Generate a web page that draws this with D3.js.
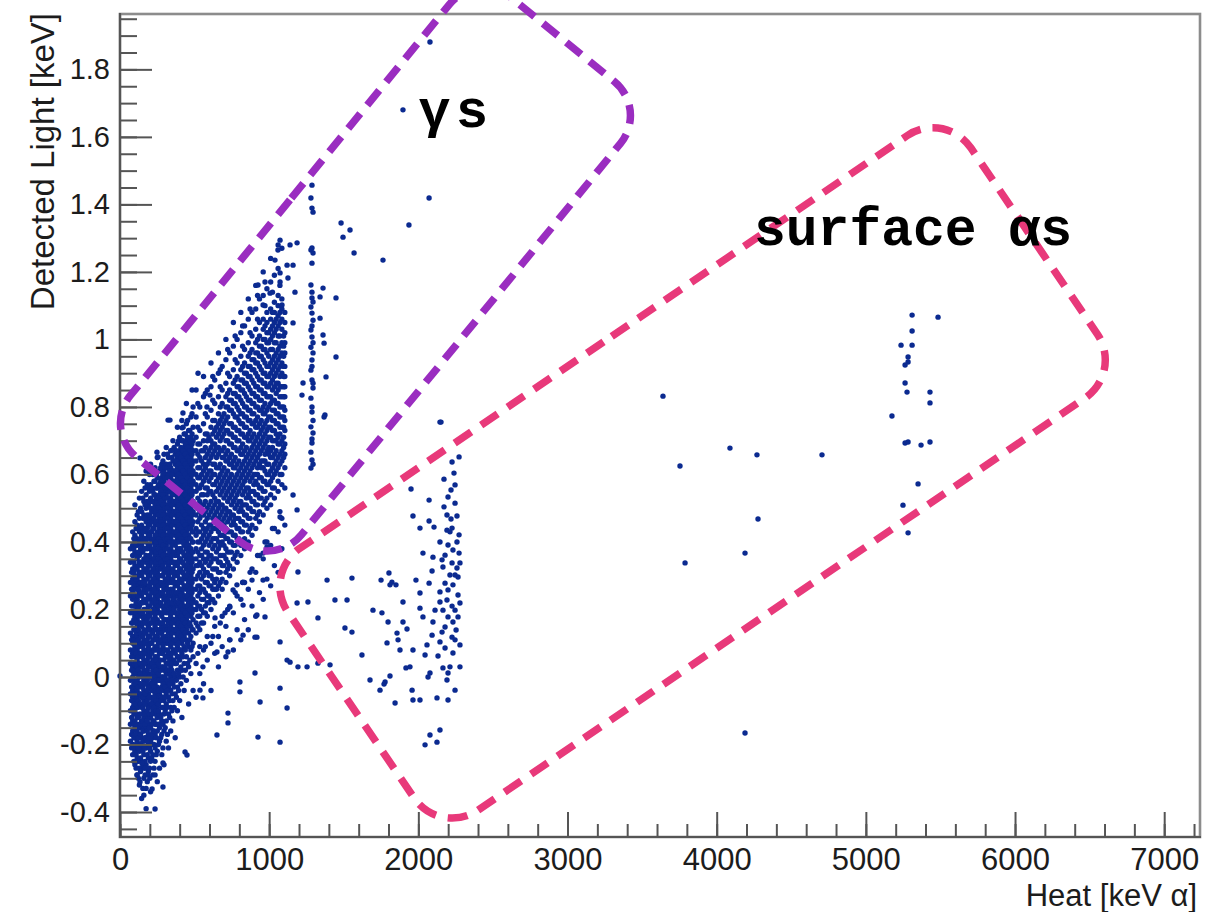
<!DOCTYPE html>
<html><head><meta charset="utf-8">
<script src="https://cdn.jsdelivr.net/npm/d3@7"></script>
<style>body{margin:0;background:#fff;}svg{display:block;}</style>
</head><body>
<svg id="chart" width="1220" height="912"></svg>
<script>
// ---------------- DATA ----------------
const xTickValues = [0,1000,2000,3000,4000,5000,6000,7000];
const yTickValues = [-0.4,-0.2,0,0.2,0.4,0.6,0.8,1,1.2,1.4,1.6,1.8];
const xTitle = "Heat [keV \u03b1]";
const yTitle = "Detected Light [keV]";

// dense low-energy core: [heat keV, light values in 0.01 keV]
const coreColumns = [
 [70,[-19,-14,-10,-5,-1,4,8,13,19,24,28,34,38]],
 [85,[-23,-20,-16,-13,-9,-6,-4,0,3,7,10,12,16,19,23,25,29,32,36,39,43]],
 [100,[-26,-22,-18,-15,-13,-10,-7,-3,-1,2,6,9,11,14,18,21,24,28,30,33,37,40,42,46,51]],
 [115,[-29,-24,-21,-19,-16,-12,-9,-6,-4,-1,3,5,8,12,15,17,20,23,27,29,32,35,39,41,45,48]],
 [130,[-32,-27,-22,-20,-17,-14,-11,-8,-5,-2,0,4,7,9,13,16,19,21,25,28,31,34,36,40,43,47,53]],
 [145,[-36,-25,-21,-18,-15,-13,-9,-6,-3,1,3,6,10,12,15,18,22,24,27,30,33,37,39,42,45,49,55]],
 [160,[-30,-27,-23,-19,-16,-12,-10,-7,-4,-1,2,5,8,11,14,17,20,23,26,29,32,35,38,41,44,48,52,58]],
 [175,[-39,-33,-26,-21,-18,-15,-11,-8,-6,-2,0,4,7,10,13,16,18,22,25,27,31,34,36,40,43,46,50,54,61]],
 [190,[-28,-24,-20,-17,-14,-12,-9,-5,-3,1,3,6,9,12,15,19,21,24,27,30,33,35,39,42,45,47,51,56]],
 [205,[-34,-25,-22,-19,-15,-12,-8,-6,-2,0,4,7,10,14,16,19,23,26,28,31,34,38,41,43,46,50,53,57,63]],
 [220,[-29,-23,-18,-16,-13,-10,-7,-4,-1,2,5,8,11,13,17,20,22,25,29,32,35,37,40,44,47,49,52,55,60]],
 [235,[-25,-21,-17,-14,-11,-8,-5,-2,1,4,6,9,12,15,18,21,24,27,30,33,36,39,42,45,48,51,54,58,62]],
 [250,[-31,-22,-16,-12,-9,-6,-3,0,3,6,9,12,14,17,20,23,26,29,31,34,37,40,43,46,49,52,56,59,65]],
 [265,[-27,-19,-15,-11,-7,-5,-1,2,5,7,11,14,16,19,22,25,28,30,33,36,39,42,44,47,51,54,57,61]],
 [280,[-23,-17,-13,-9,-6,-3,0,3,7,10,13,15,18,21,24,27,30,33,35,38,41,44,47,50,53,56,59,63]],
 [295,[-26,-16,-11,-7,-4,-1,2,5,8,11,14,17,20,23,26,28,31,34,37,40,43,46,49,52,55,58,61,66]],
 [310,[-19,-13,-8,-5,-2,1,4,6,10,12,15,19,22,24,27,31,34,36,39,42,45,48,51,54,57,60,63,68]],
 [325,[-21,-11,-6,-3,1,4,7,10,13,16,19,22,25,28,30,33,36,40,42,45,48,51,55,57,60,65]],
 [340,[-16,-9,-4,0,3,6,9,12,15,18,21,24,26,29,32,35,38,41,44,47,50,53,56,59,62,67]],
 [355,[-13,-7,-2,1,5,8,11,14,17,20,23,26,29,32,34,37,40,43,46,49,52,55,58,61,64,70]],
 [370,[-18,-5,0,4,7,10,13,16,19,21,24,27,31,33,36,39,42,45,48,51,54,57,60,63,66]],
 [385,[-10,-3,2,6,9,12,15,18,21,24,27,30,33,36,38,41,44,47,50,53,56,59,62,65,69,74]],
 [400,[-7,0,5,8,11,14,17,20,23,26,29,32,35,38,41,43,46,49,52,55,58,61,64,67,71]],
 [415,[-12,2,7,10,13,16,19,22,25,28,31,34,37,40,42,45,48,51,54,57,60,63,66,70,76]],
 [430,[-4,4,9,12,15,18,21,24,27,30,33,36,39,41,44,47,50,53,56,59,62,65,68,72]],
 [445,[-1,6,11,14,17,20,23,26,29,32,35,38,40,43,46,49,52,55,58,61,64,67,70,75,81]],
 [460,[-8,3,9,13,16,19,22,25,28,31,34,37,39,42,45,48,51,54,57,60,63,66,69,73]],
 [475,[1,8,12,15,18,21,24,27,30,33,36,38,41,44,47,50,53,56,59,62,65,68,71,77]],
 [490,[-4,6,10,14,17,20,23,26,29,32,35,37,40,43,46,49,52,55,58,61,64,67,70,74,80]]
];
const coreColumnsB = [
 [78,[-21,-17,-12,-7,-3,2,6,11,16,21,26,31]],
 [93,[-25,-21,-18,-14,-11,-8,-5,-2,1,4,8,11,14,17,21,24,27,31,34,38,41]],
 [108,[-27,-23,-20,-17,-14,-11,-8,-5,-2,1,4,7,10,13,16,19,22,26,29,32,36,39,44]],
 [123,[-30,-25,-21,-18,-15,-12,-9,-7,-3,0,2,6,9,11,14,18,20,24,26,30,33,37,40,44,49]],
 [138,[-28,-24,-20,-17,-14,-11,-8,-5,-2,1,4,7,10,13,16,19,22,25,28,31,34,38,41,44,50]],
 [153,[-33,-26,-22,-19,-16,-13,-9,-6,-3,0,3,6,9,12,16,19,22,25,28,31,34,37,40,43,47,53]],
 [168,[-29,-25,-21,-18,-14,-11,-8,-5,-2,1,4,7,10,13,16,20,23,26,28,32,35,38,41,44,47,51,56]],
 [183,[-31,-23,-19,-16,-13,-10,-7,-4,-1,2,5,8,11,14,17,20,23,26,29,32,35,38,41,44,48,52,57]],
 [198,[-27,-21,-18,-15,-11,-9,-6,-3,0,3,6,8,12,14,18,21,24,27,30,33,36,39,42,45,48,52,55,60]],
 [213,[-24,-20,-17,-14,-11,-8,-4,-2,1,4,7,10,13,16,19,22,25,28,31,34,37,40,43,46,49,52,56]],
 [228,[-27,-20,-16,-13,-9,-6,-3,0,3,5,8,11,14,17,20,23,26,29,32,35,38,41,44,47,50,54,58]],
 [243,[-23,-18,-14,-10,-7,-4,-1,2,5,8,11,14,16,19,22,25,28,31,34,37,40,42,46,49,53,56,60]],
 [258,[-20,-14,-10,-8,-4,-1,1,4,8,10,13,16,19,21,24,27,30,32,35,38,41,45,48,50,53,57]],
 [273,[-18,-12,-7,-4,-1,2,5,8,11,13,16,19,22,25,28,32,34,37,40,43,46,49,52,55,58,62]],
 [288,[-21,-14,-9,-6,-2,0,3,7,9,12,16,19,21,25,27,30,33,36,39,42,45,48,51,54,57,60,64]],
 [303,[-15,-10,-6,-3,0,3,6,8,11,14,17,20,23,26,29,32,35,38,41,44,47,50,53,56,59,62]],
 [318,[-17,-9,-4,-1,2,6,8,11,14,17,21,23,26,29,32,35,38,41,44,47,50,53,56,59,62,66]],
 [333,[-12,-7,-2,2,5,7,11,14,17,20,22,25,28,31,34,37,40,43,46,49,52,55,58,61,63]],
 [348,[-10,-5,-1,2,4,7,10,13,16,19,22,25,28,31,34,36,39,42,45,48,51,54,57,60,65]],
 [363,[-9,-3,1,5,8,11,14,17,20,23,25,28,30,34,37,40,43,46,49,52,55,58,61,64,68]],
 [378,[-6,-1,4,8,11,14,17,19,22,25,28,31,34,37,40,43,46,49,52,55,58,61,64,67]],
 [393,[-4,1,6,10,13,16,19,22,25,28,31,34,37,40,42,45,48,51,54,57,60,63,66,70]],
 [408,[-2,3,8,12,15,18,21,24,26,29,32,35,38,41,44,47,50,53,56,59,62,65,68]],
 [423,[0,6,11,14,17,20,23,26,29,31,34,37,40,43,46,49,52,55,58,61,64,67,70,74]],
 [438,[2,8,13,16,19,21,24,27,30,33,36,39,42,45,48,51,54,57,60,63,66,69,72]],
 [453,[4,10,15,18,21,24,27,30,33,36,39,41,44,47,50,53,56,59,62,65,68,71,76]],
 [468,[5,11,16,20,23,26,29,32,35,38,41,44,46,49,52,55,58,61,64,67,70,73]],
 [483,[9,14,19,22,25,28,31,34,37,40,43,45,48,51,54,57,60,63,66,69,72,78]]
];

// gamma band rising with heat: [heat keV, light values in 0.01 keV]
const bandColumns = [
 [510,[-6,4,13,16,20,22,26,29,33,35,38,42,44,48,51,55,57,60,64,67,71,77,85]],
 [535,[1,9,14,18,21,25,27,31,34,36,40,43,47,49,52,56,59,62,65,69,73,80]],
 [560,[-2,8,16,19,23,26,30,32,35,39,42,44,48,51,54,58,61,63,67,70,75,83,89]],
 [585,[5,12,18,22,24,28,31,35,37,41,44,47,50,54,56,60,63,66,70,72,77,85]],
 [610,[-4,10,20,23,27,30,34,36,40,43,45,49,52,55,59,61,65,68,70,74,79,86,93]],
 [635,[7,15,22,26,28,32,35,39,41,44,48,51,53,57,60,63,67,69,73,76,81,88]],
 [660,[3,12,24,27,31,34,38,40,43,47,50,52,56,59,62,66,68,72,75,78,83,90,96]],
 [685,[9,18,26,29,33,36,40,42,46,49,51,55,58,61,65,67,71,74,77,81,85,92]],
 [710,[6,15,28,31,35,38,41,44,48,50,54,57,60,64,66,70,73,76,80,83,87,94,100]],
 [735,[11,21,30,33,37,40,43,47,49,53,56,59,63,65,69,72,75,79,82,85,89,96]],
 [760,[8,19,32,35,39,42,46,48,52,55,58,62,64,68,71,74,78,81,84,87,91,98,105]],
 [785,[14,24,34,37,41,44,47,51,54,57,60,63,67,70,73,77,80,83,86,89,93,100]],
 [810,[11,23,36,39,43,46,50,52,56,59,62,66,68,72,75,78,82,85,88,91,95,102,108]],
 [835,[17,28,38,41,45,48,51,55,58,61,64,67,71,74,77,80,84,87,90,93,97,104]],
 [860,[14,26,40,43,47,50,54,56,60,63,66,70,72,76,79,82,86,89,92,95,99,106,112]],
 [885,[21,32,42,45,49,52,55,59,62,65,68,71,75,78,81,84,88,91,94,97,101,108]],
 [910,[18,31,44,47,51,54,58,60,64,67,70,74,76,80,83,86,90,93,96,99,103,109,116]],
 [935,[25,36,46,49,53,56,59,63,66,69,72,75,79,82,85,88,92,95,98,101,105,112]],
 [960,[23,35,48,51,55,58,62,64,68,71,74,78,80,84,87,90,94,97,100,103,106,113,120]],
 [985,[29,40,50,53,57,60,63,67,70,73,76,79,83,86,89,92,96,99,102,105,108,115]],
 [1010,[27,39,51,54,58,61,65,67,71,74,77,81,83,87,90,93,97,100,103,106,109,117,124]],
 [1035,[33,44,53,56,60,63,66,70,73,76,79,82,86,89,92,95,99,102,105,108,111,119]],
 [1060,[31,43,55,58,62,65,69,71,75,78,81,85,87,91,94,97,101,104,107,110,113,121,128]],
 [1085,[38,47,57,60,64,67,70,74,77,80,83,86,90,93,96,99,103,106,109,112,127]],
 [1105,[45,56,62,66,69,73,76,79,83,86,89,92,96,99,102,105,108]]
];
const bandColumnsB = [
 [522,[7,15,18,21,24,27,30,33,37,40,43,46,50,53,56,59,62,66,69,74,81]],
 [547,[16,20,23,26,29,33,36,38,41,45,48,51,54,57,60,64,67]],
 [572,[9,19,21,25,28,31,34,37,40,43,46,49,52,56,59,62,65,68,72,78,84]],
 [597,[22,24,27,30,33,36,39,42,45,48,51,55,58,61,64,67,71]],
 [622,[12,23,26,29,32,35,38,41,44,47,50,54,57,60,63,66,69,72,76,82,89]],
 [647,[26,29,32,35,37,41,44,46,49,52,55,58,62,65,68,71,74]],
 [672,[16,28,31,34,36,39,42,45,48,51,54,57,60,63,67,70,73,76,80,86,91]],
 [697,[33,36,39,42,45,47,50,53,56,59,62,65,68,72,75,78]],
 [722,[20,32,34,37,41,43,46,49,52,55,58,61,64,67,70,73,77,80,84,90,97]],
 [747,[37,40,43,45,48,51,54,57,60,63,66,69,72,75,79,82]],
 [772,[25,36,39,42,45,47,50,53,56,59,62,65,68,71,74,77,81,84,88,94,101]],
 [797,[41,44,47,49,52,55,58,61,64,67,70,73,76,79,83,86]],
 [822,[28,40,43,46,49,51,54,57,60,63,66,69,72,75,78,81,85,88,92,98,104]],
 [847,[45,48,51,53,56,59,62,65,68,71,74,77,80,83,87,90]],
 [872,[31,44,47,50,53,55,58,61,64,67,70,73,76,79,82,85,89,92,96,102,109]],
 [897,[49,52,55,57,60,63,66,69,72,75,78,81,84,87,91,94]],
 [922,[36,48,51,54,57,60,62,65,68,71,74,77,80,83,86,89,93,96,100,106,113]],
 [947,[53,56,59,62,64,67,70,73,76,79,82,85,88,91,95,98]],
 [972,[40,52,55,58,61,64,66,69,72,75,78,81,84,87,90,93,97,100,104,110,117]],
 [997,[57,60,63,66,68,71,74,77,80,83,86,89,92,95,99,102]],
 [1022,[44,56,59,62,65,68,70,73,76,79,82,85,88,91,94,97,101,104,108,114]],
 [1047,[61,64,67,70,72,75,78,81,84,87,90,93,96,99,103,106]],
 [1072,[49,60,63,66,69,72,74,77,80,83,86,89,92,95,98,101,105,108,116]],
 [1097,[65,68,71,74,77,80,83,86,89,92,95,98,101]]
];

// individual events [heat keV, light keV]
const coreTail = [[0,0.003],[436,-0.222],[449,-0.231],[288,-0.255],[235,-0.290],[188,-0.290],[288,-0.326],[215,-0.332],[235,-0.391],[134,-0.311],[114,-0.290],[147,-0.255],[170,-0.27],[160,-0.35],[200,-0.30],[120,-0.25]];

const line1280 = [[1287,1.457],[1280,1.419],[1287,1.389],[1294,1.377],[1287,1.271],[1280,1.265],[1294,1.256],[1287,1.226],[1280,1.161],[1287,1.140],[1287,1.123],[1294,1.111],[1280,1.096],[1287,1.078],[1294,1.057],[1287,1.040],[1280,1.028],[1287,1.007],[1294,0.990],[1280,0.977],[1294,0.960],[1287,0.939],[1287,0.920],[1280,0.909],[1287,0.880],[1294,0.870],[1294,0.856],[1280,0.826],[1287,0.800],[1287,0.785],[1294,0.760],[1280,0.741],[1294,0.723],[1287,0.705],[1287,0.693],[1280,0.666],[1287,0.643],[1294,0.630],[1280,0.619]];

const gammaOutliers = [[1073,1.294],[1059,1.265],[1140,1.280],[1187,1.286],[1039,1.235],[1120,1.220],[1160,1.220],[1073,1.197],[1126,1.182],[1073,1.170],[925,1.161],[1173,1.140],[1361,1.152],[1341,1.126],[1448,1.123],[1006,1.137],[959,1.102],[1086,1.102],[1341,1.063],[1160,1.049],[1361,1.013],[1448,0.948],[1368,0.989],[1381,0.889],[1227,0.871],[1368,0.770],[1220,0.835],[523,0.900],[483,0.850],[422,0.782],[335,0.761],[416,0.738],[248,0.666],[134,0.649],[322,0.761],[583,0.800],[603,0.835],[255,0.652],[349,0.672],[1374,0.776]];

const highOutliers = [[2078,1.881],[1897,1.680],[1937,1.339],[2072,1.419],[1763,1.235],[1569,1.256],[1495,1.303],[1542,1.324],[1482,1.345],[2145,0.755]];

const midScatter = [[985,0.385],[959,0.367],[1193,0.311],[1388,0.287],[885,0.287],[959,0.287],[825,0.281],[784,0.273],[758,0.258],[1187,0.219],[1260,0.222],[918,0.184],[972,0.178],[1327,0.175],[1522,0.228],[704,0.190],[637,0.175],[825,0.124],[918,0.118],[737,0.110],[1073,0.104],[1508,0.145],[1120,0.050],[1193,0.030],[1254,0.030],[1327,0.041],[1408,0.036],[905,0.012],[724,0.074],[556,0.030],[737,0.207],[825,0.213],[1140,0.044],[905,0.118],[650,0.074],[536,-0.039],[556,-0.062],[804,-0.015],[804,-0.044],[939,-0.074],[1073,-0.033],[1120,-0.092],[724,-0.107],[724,-0.136],[650,-0.172],[925,-0.178],[1073,-0.193],[1555,0.293],[1750,0.287],[1823,0.281],[1864,0.110],[1696,0.198],[1777,-0.015],[1622,0.065],[1441,0.228],[1958,-0.039],[1964,-0.068],[1555,0.133],[1160,0.539],[1187,0.495],[1073,0.474]];

const cluster2200 = [[2152,0.755],[2273,0.652],[2226,0.637],[2239,0.604],[2172,0.586],[1951,0.557],[2072,0.524],[2199,0.533],[2246,0.515],[2172,0.504],[2259,0.477],[2219,0.468],[1964,0.477],[2072,0.462],[2105,0.444],[2011,0.441],[2192,0.435],[2212,0.430],[2145,0.400],[2259,0.400],[2199,0.391],[2031,0.367],[2232,0.376],[2273,0.367],[2098,0.355],[2159,0.347],[2279,0.338],[2226,0.338],[2165,0.326],[2259,0.323],[2092,0.314],[1803,0.308],[2212,0.302],[2266,0.296],[2179,0.278],[1984,0.287],[2072,0.278],[1810,0.273],[1850,0.273],[2232,0.273],[2145,0.252],[2011,0.249],[2266,0.243],[1897,0.222],[2192,0.228],[2145,0.222],[2279,0.219],[2226,0.210],[2165,0.198],[2011,0.204],[2246,0.198],[2031,0.178],[1756,0.190],[2199,0.178],[2098,0.163],[2232,0.163],[1797,0.163],[1897,0.163],[2179,0.148],[1924,0.142],[1857,0.130],[2253,0.139],[2092,0.124],[2226,0.118],[2145,0.104],[2246,0.110],[1790,0.101],[1877,0.080],[1964,0.080],[2058,0.095],[2179,0.086],[2045,0.065],[2132,0.062],[2232,0.071],[1944,0.030],[1917,0.027],[2165,0.027],[2212,0.030],[2279,0.030],[1810,0.003],[2078,0.012],[2199,0.012],[2192,-0.009],[1770,-0.021],[2065,0.000],[2125,-0.062],[2011,-0.068],[2078,-0.172],[2125,-0.193],[2045,-0.201],[2145,-0.157],[2246,-0.039],[2199,-0.068],[1743,-0.039],[1676,-0.009],[1844,-0.077],[2192,0.480],[2226,0.441],[2273,0.421],[2179,0.361],[2246,0.302],[2199,0.258],[2266,0.178],[2159,0.133],[2279,0.095],[2112,0.198],[2219,0.554],[2246,0.569]];

const alphaScatter = [[3640,0.832],[3754,0.625],[4089,0.678],[4270,0.658],[4706,0.658],[3788,0.338],[4190,0.367],[4277,0.468],[4190,-0.166]];

const alpha5300 = [[5310,1.072],[5484,1.066],[5310,1.025],[5236,0.983],[5310,0.983],[5283,0.948],[5283,0.933],[5263,0.924],[5263,0.871],[5276,0.844],[5430,0.844],[5430,0.812],[5175,0.773],[5263,0.693],[5283,0.696],[5370,0.687],[5430,0.696],[5350,0.572],[5249,0.509],[5283,0.427]];

// annotation boxes (corners in heat / light units)
const gammaBox = [[-117,0.733],[1029,0.320],[3542,1.682],[2396,2.094]];
const alphaBox = [[952,0.305],[2145,-0.471],[6725,0.903],[5531,1.680]];
const gammaLabel = {heat:2000, light:1.63, text:"\u03b3s"};
const alphaLabel = {heat:4250, light:1.28, text:"surface \u03b1s"};

// ---------------- CHART ----------------
const svg = d3.select("#chart");
const x = d3.scaleLinear().domain([0, 7240]).range([120, 1200]);
const y = d3.scaleLinear().domain([-0.474, 1.964]).range([837, 14]);

const points = [];
[coreColumns, coreColumnsB, bandColumns, bandColumnsB].forEach(cols =>
  cols.forEach(([h, vals]) => vals.forEach(v => points.push([h, v/100]))));
[coreTail, line1280, gammaOutliers, highOutliers, midScatter, cluster2200, alphaScatter, alpha5300]
  .forEach(arr => arr.forEach(p => points.push(p)));

const font = "'Liberation Sans', Arial, Helvetica, sans-serif";

// frame
svg.append("rect").attr("x", 120).attr("y", 14).attr("width", 1080).attr("height", 823)
  .attr("fill", "none").attr("stroke", "#8c8c8c").attr("stroke-width", 2.6);

// points
svg.append("g").selectAll("circle").data(points).join("circle")
  .attr("cx", d => x(d[0])).attr("cy", d => y(d[1])).attr("r", 2.7)
  .attr("fill", "#0b2a90");

// axes
const yMinor = d3.range(-0.45, 1.96, 0.05).map(v => +v.toFixed(2));
const xMinor = d3.range(0, 7201, 200);

function styleAxis(g) {
  g.select(".domain").remove();
  g.selectAll("line").attr("stroke", "#555").attr("stroke-width", 2);
  g.selectAll("text").attr("fill", "#1c1c1c").attr("font-family", font);
}

svg.append("g").attr("transform", "translate(120,0)")
  .call(d3.axisLeft(y).tickValues(yMinor).tickSize(-17).tickFormat(""))
  .call(styleAxis);
svg.append("g").attr("transform", "translate(120,0)")
  .call(d3.axisLeft(y).tickValues(yTickValues).tickSize(-32).tickPadding(10)
        .tickFormat(d => String(+d.toFixed(1))))
  .call(styleAxis)
  .selectAll("text").attr("font-size", 29).attr("x", -10);

svg.append("g").attr("transform", "translate(0,837)")
  .call(d3.axisBottom(x).tickValues(xMinor).tickSize(-13).tickFormat(""))
  .call(styleAxis);
svg.append("g").attr("transform", "translate(0,837)")
  .call(d3.axisBottom(x).tickValues(xTickValues).tickSize(-25).tickPadding(11).tickFormat(d3.format("d")))
  .call(styleAxis)
  .selectAll("text").attr("font-size", 31);

// axis lines
svg.append("line").attr("x1",120).attr("x2",120).attr("y1",13).attr("y2",838).attr("stroke","#555").attr("stroke-width",2.2);
svg.append("line").attr("x1",119).attr("x2",1201).attr("y1",837).attr("y2",837).attr("stroke","#555").attr("stroke-width",2.2);

// titles
svg.append("text").attr("x", 1197).attr("y", 906).attr("text-anchor", "end")
  .attr("font-family", font).attr("font-size", 31).attr("fill", "#1c1c1c").text(xTitle);
svg.append("text").attr("transform", "translate(54,13) rotate(-90)").attr("text-anchor", "end")
  .attr("font-family", font).attr("font-size", 33).attr("fill", "#1c1c1c").text(yTitle);

// annotation boxes
function roundedPath(corners, r) {
  const pts = corners.map(c => [x(c[0]), y(c[1])]);
  const n = pts.length;
  const p = d3.path();
  const m = [(pts[n-1][0] + pts[0][0]) / 2, (pts[n-1][1] + pts[0][1]) / 2];
  p.moveTo(m[0], m[1]);
  for (let i = 0; i < n; i++) {
    const a = pts[i], b = pts[(i+1) % n];
    p.arcTo(a[0], a[1], b[0], b[1], r);
  }
  p.closePath();
  return p.toString();
}
svg.append("path").attr("d", roundedPath(gammaBox, 44)).attr("fill", "none")
  .attr("stroke", "#9a2dc0").attr("stroke-width", 7.5).attr("stroke-dasharray", "19 11");
svg.append("path").attr("d", roundedPath(alphaBox, 46)).attr("fill", "none")
  .attr("stroke", "#e8397a").attr("stroke-width", 7.5).attr("stroke-dasharray", "20 12");

const mono = "'Liberation Mono', 'Courier New', 'DejaVu Sans Mono', monospace";
svg.append("text").attr("x", x(gammaLabel.heat)).attr("y", y(gammaLabel.light))
  .attr("font-family", mono).attr("font-weight", "bold").attr("font-size", 54)
  .attr("letter-spacing", 5).attr("fill", "#000").text(gammaLabel.text);
svg.append("text").attr("x", x(alphaLabel.heat)).attr("y", y(alphaLabel.light))
  .attr("font-family", mono).attr("font-weight", "bold").attr("font-size", 53)
  .attr("fill", "#000").text(alphaLabel.text);
</script>
</body></html>
